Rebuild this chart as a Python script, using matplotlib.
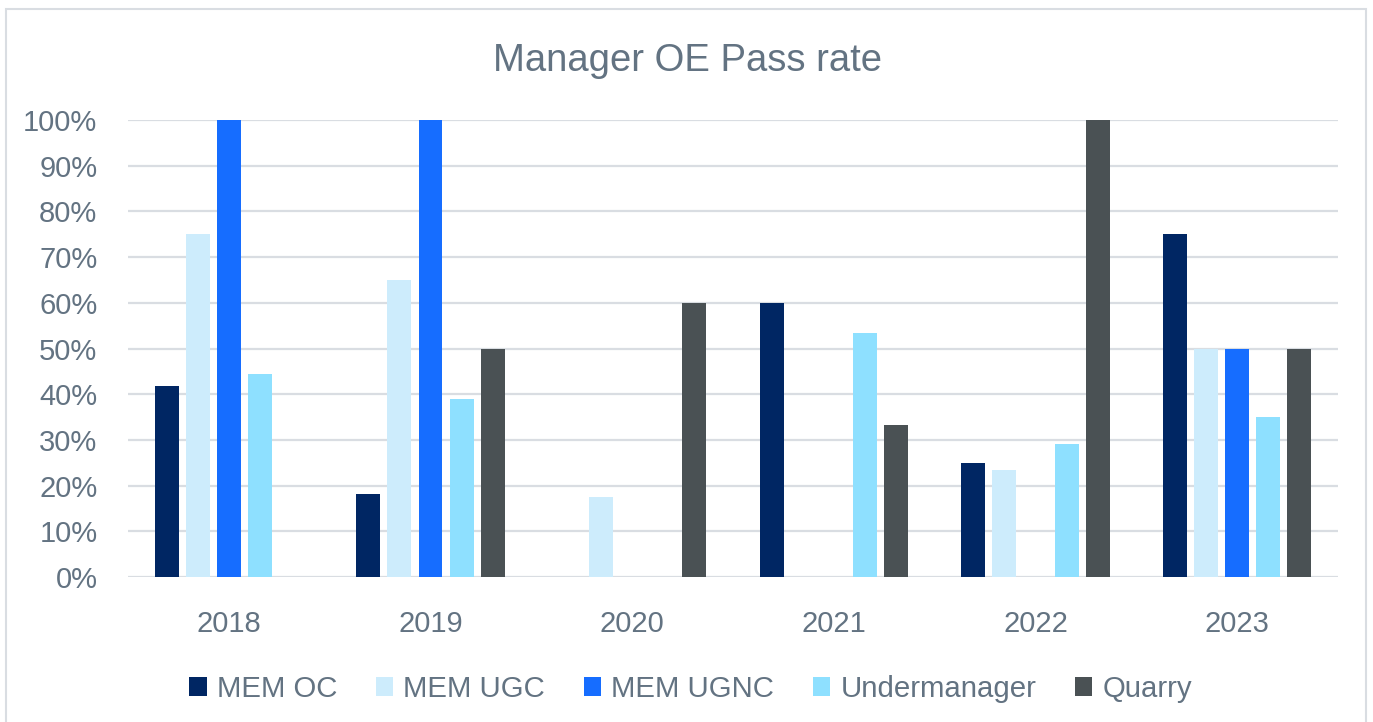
import matplotlib
matplotlib.use("Agg")
import matplotlib.pyplot as plt
from matplotlib.patches import Rectangle
import numpy as np

years = ["2018", "2019", "2020", "2021", "2022", "2023"]
series_names = ["MEM OC", "MEM UGC", "MEM UGNC", "Undermanager", "Quarry"]
mem_oc = [41.7, 18.2, 0, 60, 25, 75]
mem_ugc = [75, 65, 17.6, 0, 23.5, 50]
mem_ugnc = [100, 100, 0, 0, 0, 50]
undermanager = [44.4, 38.9, 0, 53.3, 29.0, 35]
quarry = [0, 50, 60, 33.3, 100, 50]
yticks = [0, 10, 20, 30, 40, 50, 60, 70, 80, 90, 100]

colors = ["#002663", "#cdecfc", "#166dff", "#8ee0ff", "#4a5154"]
text_color = "#637382"
grid_color = "#d9dde2"

plt.rcParams['font.family'] = ['Liberation Sans', 'DejaVu Sans']

W, H = 1373, 722
fig = plt.figure(figsize=(W / 100, H / 100), dpi=100)
fig.patch.set_facecolor("white")

# outer frame
fig.patches.append(Rectangle((6 / W, -0.05), (1366 - 6) / W, 1.05 - 9 / H,
                             transform=fig.transFigure, fill=False,
                             edgecolor=grid_color, linewidth=1.5))

ax = fig.add_axes([128 / W, 1 - 577 / H, (1338 - 128) / W, (577 - 120) / H])
x = np.arange(len(years))
width = 0.119
pitch = 0.154
all_series = [mem_oc, mem_ugc, mem_ugnc, undermanager, quarry]
for i, (name, vals, c) in enumerate(zip(series_names, all_series, colors)):
    ax.bar(x + (i - 2) * pitch, vals, width=width, color=c, label=name, zorder=3)

ax.set_xlim(-0.5, len(years) - 0.5)
ax.set_ylim(0, 100)
ax.set_yticks(yticks)
ax.set_yticklabels([f"{v}%" for v in yticks])
ax.set_xticks(x)
ax.set_xticklabels(years)
ax.tick_params(axis='both', length=0, labelsize=21, labelcolor=text_color)
ax.tick_params(axis='x', pad=24)
ax.tick_params(axis='y', pad=22)
ax.grid(axis='y', color=grid_color, linewidth=1.6, zorder=0)
for s in ax.spines.values():
    s.set_visible(False)

fig.text(0.501, 1 - 61 / H, "Manager OE Pass rate", ha='center', va='center',
         fontsize=27.5, color=text_color)

leg = fig.legend(loc='center', bbox_to_anchor=(0.503, 1 - 689 / H), ncol=5,
                 frameon=False, fontsize=21.2, handlelength=0.6, handleheight=0.6,
                 handletextpad=0.35, columnspacing=1.3)
for t in leg.get_texts():
    t.set_color(text_color)

fig.savefig("out.png", dpi=100)
